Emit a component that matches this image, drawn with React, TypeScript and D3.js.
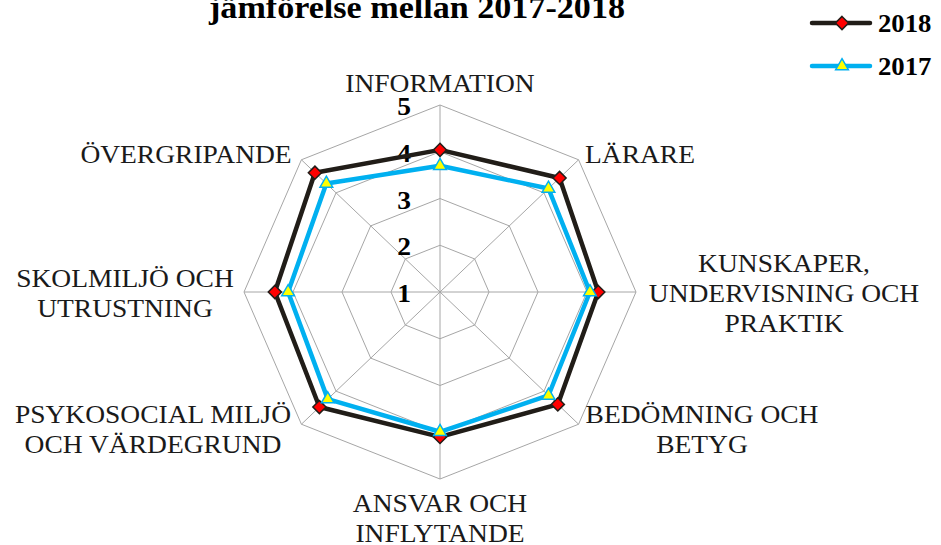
import React, { useEffect, useRef } from 'react';
import * as d3 from 'd3';

// Categories (clockwise from top), each label split into lines
const categories: string[][] = [
  ['INFORMATION'],
  ['LÄRARE'],
  ['KUNSKAPER,', 'UNDERVISNING OCH', 'PRAKTIK'],
  ['BEDÖMNING OCH', 'BETYG'],
  ['ANSVAR OCH', 'INFLYTANDE'],
  ['PSYKOSOCIAL MILJÖ', 'OCH VÄRDEGRUND'],
  ['SKOLMILJÖ OCH', 'UTRUSTNING'],
  ['ÖVERGRIPANDE'],
];

const values2018 = [4.04, 4.45, 4.23, 4.4, 4.1, 4.48, 4.37, 4.61];
const values2017 = [3.7, 4.13, 4.06, 4.13, 3.99, 4.24, 4.1, 4.28];

const ticks = [1, 2, 3, 4, 5];

const titleText = 'jämförelse mellan 2017-2018';
const seriesNames = ['2018', '2017'];

// label layout: centre x, first baseline y
const labelLayout = [
  { x: 440, y: 92 },
  { x: 640, y: 163 },
  { x: 784, y: 272 },
  { x: 702, y: 423 },
  { x: 440, y: 512 },
  { x: 153, y: 423 },
  { x: 125, y: 287 },
  { x: 186, y: 163 },
];

const App: React.FC = () => {
  const svgRef = useRef<SVGSVGElement>(null);

  useEffect(() => {
    if (!svgRef.current) return;
    const svg = d3.select(svgRef.current);
    svg.selectAll('*').remove();

    const cx = 440;
    const cy = 292;
    const rx = 196;
    const ry = 187;
    const font = 'Liberation Serif, Times New Roman, serif';
    const sx = 1.1;

    const r = d3.scaleLinear().domain([1, 5]).range([0, 1]);
    const n = categories.length;
    const angle = (i: number) => (i * 2 * Math.PI) / n;
    const px = (i: number, v: number) => cx + Math.sin(angle(i)) * r(v) * rx;
    const py = (i: number, v: number) => cy - Math.cos(angle(i)) * r(v) * ry;

    const g = svg.append('g');

    // grid rings
    const ringLine = d3.line<number>()
      .x(i => px(i, 0))
      .y(i => py(i, 0));
    ticks.filter(t => t > 1).forEach(t => {
      const pts = d3.range(n).map(i => [px(i, t), py(i, t)] as [number, number]);
      g.append('path')
        .attr('d', d3.line()(pts) + 'Z')
        .attr('fill', 'none')
        .attr('stroke', '#a6a6a6')
        .attr('stroke-width', 1);
    });
    void ringLine;

    // spokes
    g.selectAll('.spoke')
      .data(d3.range(n))
      .enter()
      .append('line')
      .attr('x1', cx)
      .attr('y1', cy)
      .attr('x2', i => px(i, 5))
      .attr('y2', i => py(i, 5))
      .attr('stroke', '#a6a6a6')
      .attr('stroke-width', 1);

    // tick labels
    g.selectAll('.tick-label')
      .data(ticks)
      .enter()
      .append('text')
      .attr('transform', t => `translate(411,${py(0, t) + 10}) scale(${sx},1)`)
      .attr('text-anchor', 'end')
      .attr('font-family', font)
      .attr('font-weight', 'bold')
      .attr('font-size', 25)
      .attr('fill', '#000')
      .text(t => String(t));

    // category labels
    categories.forEach((lines, i) => {
      const lay = labelLayout[i];
      lines.forEach((ln, j) => {
        g.append('text')
          .attr('transform', `translate(${lay.x},${lay.y + j * 30}) scale(${sx},1)`)
          .attr('text-anchor', 'middle')
          .attr('font-family', font)
          .attr('font-size', 25)
          .attr('fill', '#1a1a1a')
          .text(ln);
      });
    });

    const diamond = d3.symbol().type(d3.symbolDiamond2).size(110);
    const triangle = d3.symbol().type(d3.symbolTriangle).size(70);

    const series = [
      { name: seriesNames[0], values: values2018, stroke: '#211d18', symbol: diamond, fill: '#ff0000', mstroke: '#211d18' },
      { name: seriesNames[1], values: values2017, stroke: '#00b0f0', symbol: triangle, fill: '#ffff00', mstroke: '#00b0f0' },
    ];

    series.forEach(s => {
      const pts = s.values.map((v, i) => [px(i, v), py(i, v)] as [number, number]);
      g.append('path')
        .attr('d', d3.line()(pts) + 'Z')
        .attr('fill', 'none')
        .attr('stroke', s.stroke)
        .attr('stroke-width', 4.5)
        .attr('stroke-linejoin', 'round');
      g.selectAll(null)
        .data(pts)
        .enter()
        .append('path')
        .attr('d', s.symbol)
        .attr('transform', d => `translate(${d[0]},${d[1]})`)
        .attr('fill', s.fill)
        .attr('stroke', s.mstroke)
        .attr('stroke-width', 1.5);
    });

    // title (top line clipped by the frame)
    svg.append('text')
      .attr('transform', `translate(417,18) scale(${sx},1)`)
      .attr('text-anchor', 'middle')
      .attr('font-family', font)
      .attr('font-weight', 'bold')
      .attr('font-size', 31)
      .attr('fill', '#000')
      .text(titleText);

    // legend
    const legend = svg.append('g');
    series.forEach((s, k) => {
      const ly = 23 + k * 43;
      legend.append('line')
        .attr('x1', 812).attr('x2', 870)
        .attr('y1', ly).attr('y2', ly)
        .attr('stroke', s.stroke)
        .attr('stroke-width', 4.5)
        .attr('stroke-linecap', 'round');
      legend.append('path')
        .attr('d', s.symbol)
        .attr('transform', `translate(842,${ly})`)
        .attr('fill', s.fill)
        .attr('stroke', s.mstroke)
        .attr('stroke-width', 1.5);
      legend.append('text')
        .attr('transform', `translate(878,${ly + 8.5}) scale(1.07,1)`)
        .attr('font-family', font)
        .attr('font-weight', 'bold')
        .attr('font-size', 25)
        .attr('fill', '#000')
        .text(s.name);
    });
  }, []);

  return (
    <svg
      ref={svgRef}
      width={941}
      height={545}
      style={{ position: 'absolute', left: 0, top: 0, background: '#fff' }}
    />
  );
};

export default App;
